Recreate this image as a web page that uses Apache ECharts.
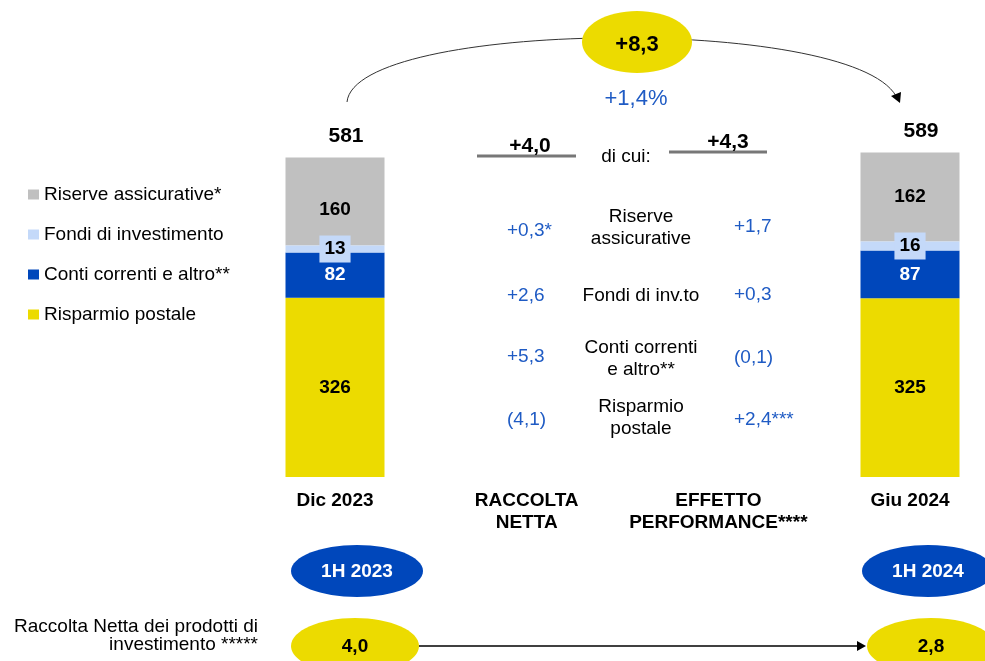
<!DOCTYPE html>
<html>
<head>
<meta charset="utf-8">
<script src="https://cdn.jsdelivr.net/npm/echarts@6/dist/echarts.min.js"></script>
<style>
html, body { margin: 0; padding: 0; background: #fff; }
#chart { width: 985px; height: 661px; }
</style>
</head>
<body>
<div id="chart"></div>
<script>
// categorie e valori (mld di euro)
var categorie = ['Dic 2023', 'RACCOLTA\nNETTA', 'EFFETTO\nPERFORMANCE****', 'Giu 2024'];
var risparmioPostale = [326, '-', '-', 325];
var contiCorrenti = [82, '-', '-', 87];
var fondiInvestimento = [13, '-', '-', 16];
var riserveAssicurative = [160, '-', '-', 162];
var totali = [581, '-', '-', 589];

var nomiLegenda = ['Riserve assicurative*', 'Fondi di investimento', 'Conti correnti e altro**', 'Risparmio postale'];

// dettaglio variazioni
var voci = ['Riserve\nassicurative', 'Fondi di inv.to', 'Conti correnti\ne altro**', 'Risparmio\npostale'];
var raccoltaNetta = ['+0,3*', '+2,6', '+5,3', '(4,1)'];
var effettoPerformance = ['+1,7', '+0,3', '(0,1)', '+2,4***'];
var totRaccolta = '+4,0';
var totPerformance = '+4,3';
var variazione = '+8,3';
var variazionePerc = '+1,4%';
var periodi = ['1H 2023', '1H 2024'];
var raccoltaProdotti = ['4,0', '2,8'];

var FONT = '"Liberation Sans", Arial, sans-serif';
var BLU_TESTO = '#1f5bc4';

var myChart = echarts.init(document.getElementById('chart'));

function testo(txt, x, y, opt) {
	opt = opt || {};
	return {
		type : 'text',
		z : 10,
		style : {
			text : txt,
			x : x,
			y : y,
			fill : opt.fill || '#000',
			fontSize : opt.size || 19,
			fontWeight : opt.weight || 'normal',
			fontFamily : FONT,
			align : opt.align || 'center',
			verticalAlign : 'middle',
			lineHeight : opt.lineHeight || 22
		}
	};
}

var righeSx = [231, 296, 357, 420];
var righeCentro = [228, 296, 359, 418];
var righeDx = [227, 295, 358, 420];
var grafica = [];

// arco con freccia
grafica.push({
	type : 'bezierCurve',
	z : 1,
	shape : { x1 : 347, y1 : 102, cpx1 : 355, cpy1 : 20, cpx2 : 850, cpy2 : 15, x2 : 896, y2 : 96 },
	style : { stroke : '#333', lineWidth : 1, fill : null }
});
grafica.push({
	type : 'polygon',
	z : 2,
	shape : { points : [ [ 891, 96 ], [ 901, 92 ], [ 900, 103 ] ] },
	style : { fill : '#000' }
});
grafica.push({
	type : 'ellipse',
	z : 5,
	shape : { cx : 637, cy : 42, rx : 55, ry : 31 },
	style : { fill : '#ecdb00' }
});
grafica.push(testo(variazione, 637, 45, { size : 22, weight : 'bold' }));
grafica.push(testo(variazionePerc, 636, 99, { size : 22, fill : BLU_TESTO }));

// totali raccolta / performance
grafica.push(testo(totRaccolta, 530, 146, { size : 21, weight : 'bold' }));
grafica.push({ type : 'line', shape : { x1 : 477, y1 : 156, x2 : 576, y2 : 156 }, style : { stroke : '#777', lineWidth : 3 } });
grafica.push(testo('di cui:', 626, 157));
grafica.push(testo(totPerformance, 728, 142, { size : 21, weight : 'bold' }));
grafica.push({ type : 'line', shape : { x1 : 669, y1 : 152, x2 : 767, y2 : 152 }, style : { stroke : '#777', lineWidth : 3 } });

for (var i = 0; i < voci.length; i++) {
	grafica.push(testo(raccoltaNetta[i], 507, righeSx[i], { fill : BLU_TESTO, align : 'left' }));
	grafica.push(testo(voci[i], 641, righeCentro[i]));
	grafica.push(testo(effettoPerformance[i], 734, righeDx[i], { fill : BLU_TESTO, align : 'left' }));
}

// ellissi in basso
var ellX = [357, 928];
var yellX = [355, 931];
for (var j = 0; j < 2; j++) {
	grafica.push({ type : 'ellipse', z : 5, shape : { cx : ellX[j], cy : 571, rx : 66, ry : 26 }, style : { fill : '#0047bb' } });
	grafica.push(testo(periodi[j], ellX[j], 572, { weight : 'bold', fill : '#fff' }));
	grafica.push({ type : 'ellipse', z : 5, shape : { cx : yellX[j], cy : 646, rx : 64, ry : 28 }, style : { fill : '#ecdb00' } });
	grafica.push(testo(raccoltaProdotti[j], yellX[j], 647, { weight : 'bold' }));
}
grafica.push({ type : 'line', z : 1, shape : { x1 : 419, y1 : 646, x2 : 858, y2 : 646 }, style : { stroke : '#000', lineWidth : 1.5 } });
grafica.push({ type : 'polygon', z : 2, shape : { points : [ [ 857, 641 ], [ 866, 646 ], [ 857, 651 ] ] }, style : { fill : '#000' } });
grafica.push(testo('Raccolta Netta dei prodotti di\ninvestimento *****', 258, 635.5, { align : 'right', lineHeight : 18 }));

var etichetta = function(colore) {
	return {
		show : true,
		position : 'inside',
		color : colore,
		fontSize : 19,
		fontWeight : 'bold',
		fontFamily : FONT
	};
};

// la prima etichetta grigia sta un po' più in basso nell'originale
var datiRiserve = riserveAssicurative.map(function(v, k) {
	return k === 0 ? { value : v, label : { offset : [ 0, 8 ] } } : v;
});

var option = {
	animation : false,
	backgroundColor : '#fff',
	textStyle : { fontFamily : FONT },
	legend : {
		data : nomiLegenda,
		orient : 'vertical',
		left : 23,
		top : 180,
		itemWidth : 11,
		itemHeight : 10,
		itemGap : 21,
		icon : 'rect',
		selectedMode : false,
		textStyle : { fontSize : 19, color : '#000', fontFamily : FONT }
	},
	grid : {
		left : 335,
		width : 575,
		top : 147,
		height : 330
	},
	xAxis : {
		type : 'category',
		data : categorie,
		boundaryGap : false,
		axisLine : { show : false },
		axisTick : { show : false },
		splitLine : { show : false },
		axisLabel : {
			margin : 13,
			fontSize : 19,
			fontWeight : 'bold',
			color : '#000',
			lineHeight : 22,
			fontFamily : FONT,
			interval : 0
		}
	},
	yAxis : {
		type : 'value',
		min : 0,
		max : 600,
		show : false
	},
	graphic : grafica,
	series : [ {
		name : 'Risparmio postale',
		type : 'bar',
		stack : 'tot',
		barWidth : 99,
		clip : false,
		itemStyle : { color : '#ecdb00' },
		label : etichetta('#000'),
		data : risparmioPostale
	}, {
		name : 'Conti correnti e altro**',
		type : 'bar',
		stack : 'tot',
		clip : false,
		itemStyle : { color : '#0047bb' },
		label : etichetta('#fff'),
		data : contiCorrenti
	}, {
		name : 'Fondi di investimento',
		type : 'bar',
		stack : 'tot',
		clip : false,
		itemStyle : { color : '#c4d9f9' },
		label : Object.assign(etichetta('#000'), {
			backgroundColor : '#c4d9f9',
			padding : [ 4, 5, 4, 5 ]
		}),
		z : 3,
		data : fondiInvestimento
	}, {
		name : 'Riserve assicurative*',
		type : 'bar',
		stack : 'tot',
		clip : false,
		itemStyle : { color : '#c0c0c0' },
		label : etichetta('#000'),
		data : datiRiserve
	}, {
		name : 'totale',
		type : 'scatter',
		symbolSize : 0,
		silent : true,
		clip : false,
		itemStyle : { opacity : 1 },
		label : {
			show : true,
			position : 'top',
			distance : 11,
			offset : [ 11, 0 ],
			color : '#000',
			fontSize : 21,
			fontWeight : 'bold',
			fontFamily : FONT,
			formatter : function(p) { return p.value; }
		},
		data : totali
	} ]
};

myChart.setOption(option);
</script>
</body>
</html>
